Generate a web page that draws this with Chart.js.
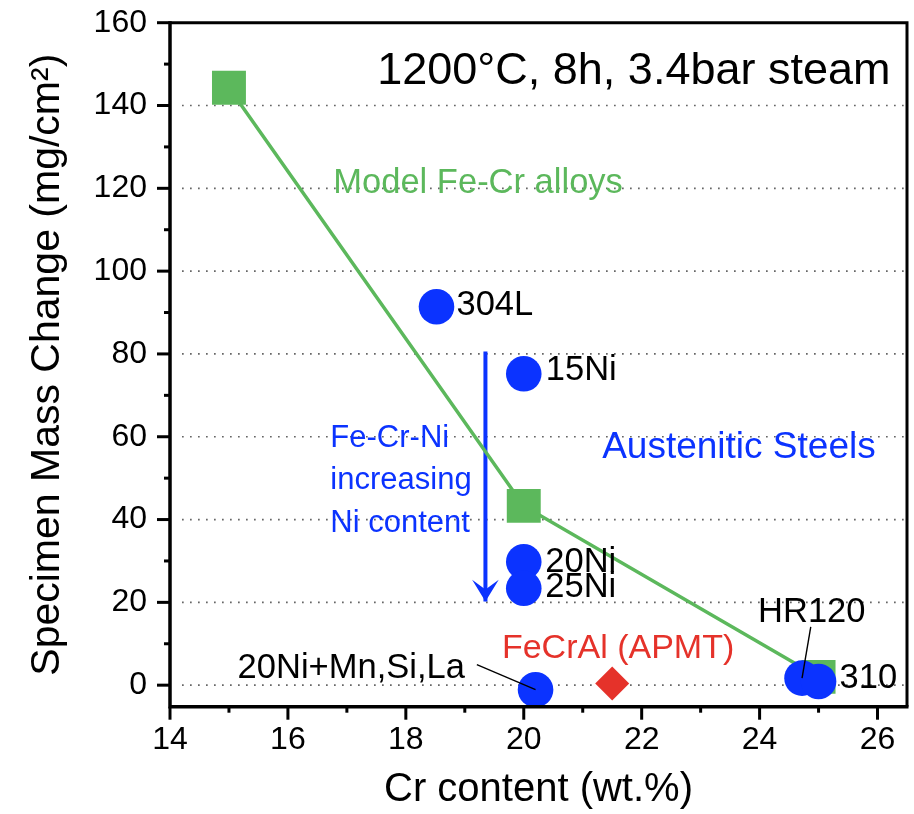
<!DOCTYPE html>
<html>
<head>
<meta charset="utf-8">
<title>Specimen mass change vs Cr content</title>
<script src="https://cdn.jsdelivr.net/npm/chart.js@4.4.1/dist/chart.umd.min.js"></script>
<style>
  html, body { margin: 0; padding: 0; background: #fff; }
  #wrap { width: 914px; height: 814px; position: relative; }
</style>
</head>
<body>
<div id="wrap"><canvas id="massChart"></canvas></div>
<script>
// ===== DATA =====
const modelCr   = [15, 20, 25];
const modelMass = [144.3, 43.3, 2.0];

const steelNames = ['304L', '15Ni', '20Ni', '25Ni', '20Ni+Mn,Si,La', 'HR120', '310'];
const steelCr    = [18.52, 20, 20, 20, 20.2, 24.72, 25.0];
const steelMass  = [91.4, 75.2, 29.8, 23.4, -1.1, 1.7, 0.9];

const fecralCr   = [21.5];
const fecralMass = [0.4];

// Ni trend arrow: start -> tip
const arrowCr   = [19.35, 19.35];
const arrowMass = [80.6, 20.2];

const xTicks      = [14, 16, 18, 20, 22, 24, 26];
const xMinorTicks = [15, 17, 19, 21, 23, 25];
const yTicks      = [0, 20, 40, 60, 80, 100, 120, 140, 160];
const yMinorTicks = [10, 30, 50, 70, 90, 110, 130, 150];

// ===== STYLE =====
const FONT  = '"Liberation Sans", Arial, Helvetica, sans-serif';
const BLUE  = '#0b33ff';
const GREEN = '#5cb85c';
const RED   = '#e5322a';

// label offsets (px) from each steel point: dx, dy (baseline), align
const steelLabelPos = [
  [20, 8.3, 'left'], [22, 6, 'left'], [21.5, 10, 'left'], [21.5, 8.4, 'left'],
  [-70.7, -11.7, 'right'], [-44, -56.6, 'left'], [21, 6.6, 'left']
];
// leader lines (start offset from point centre, px)
const leaders = { 4: [-58.7, -25], 5: [8.7, -51.3] };

// free text, anchored in data units
const notes = [
  { text: '1200°C, 8h, 3.4bar steam', x: 26.22, y: 145.3, size: 45, color: '#000', align: 'right' },
  { text: 'Model Fe-Cr alloys',       x: 16.77, y: 118.9, size: 34.5, color: GREEN, align: 'left' },
  { text: 'Austenitic Steels',        x: 21.33, y: 54.8,  size: 37, color: BLUE, align: 'left' },
  { text: 'Fe-Cr-Ni',                 x: 16.72, y: 57.6,  size: 31, color: BLUE, align: 'left' },
  { text: 'increasing',               x: 16.72, y: 47.3,  size: 31, color: BLUE, align: 'left' },
  { text: 'Ni content',               x: 16.72, y: 37.1,  size: 31, color: BLUE, align: 'left' },
  { text: 'FeCrAl (APMT)',            x: 19.63, y: 6.5,   size: 34, color: RED, align: 'left' }
];

const pts = (xs, ys) => xs.map((x, i) => ({ x, y: ys[i] }));

// ===== GRID / FRAME / LABELS =====
const decor = {
  id: 'decor',
  beforeDatasetsDraw(chart) {
    const { ctx, chartArea: a, scales: { y } } = chart;
    ctx.save();
    ctx.strokeStyle = '#666';
    ctx.lineWidth = 1.7;
    ctx.setLineDash([1.7, 6.3]);
    yTicks.forEach(v => {
      if (v >= y.max) return;
      const py = y.getPixelForValue(v);
      ctx.beginPath(); ctx.moveTo(a.left + 12, py); ctx.lineTo(a.right, py); ctx.stroke();
    });
    ctx.restore();
  },
  afterDatasetsDraw(chart) {
    const { ctx, chartArea: a, scales: { x, y } } = chart;
    ctx.save();

    // arrow head
    const am = chart.getDatasetMeta(3).data;
    const tip = am[am.length - 1];
    ctx.fillStyle = BLUE;
    ctx.beginPath();
    ctx.moveTo(tip.x, tip.y);
    ctx.lineTo(tip.x - 13.3, tip.y - 21.7);
    ctx.lineTo(tip.x, tip.y - 12);
    ctx.lineTo(tip.x + 13.3, tip.y - 21.7);
    ctx.closePath();
    ctx.fill();

    // leader lines
    const sm = chart.getDatasetMeta(0).data;
    ctx.strokeStyle = '#000';
    ctx.lineWidth = 1.4;
    Object.keys(leaders).forEach(k => {
      const p = sm[k], [dx, dy] = leaders[k];
      ctx.beginPath(); ctx.moveTo(p.x + dx, p.y + dy); ctx.lineTo(p.x, p.y); ctx.stroke();
    });

    // point labels
    ctx.fillStyle = '#000';
    ctx.font = `34.5px ${FONT}`;
    ctx.textBaseline = 'alphabetic';
    steelNames.forEach((name, i) => {
      const p = sm[i], [dx, dy, al] = steelLabelPos[i];
      ctx.textAlign = al;
      ctx.fillText(name, p.x + dx, p.y + dy);
    });

    // notes
    notes.forEach(n => {
      ctx.font = `${n.size}px ${FONT}`;
      ctx.fillStyle = n.color;
      ctx.textAlign = n.align;
      ctx.fillText(n.text, x.getPixelForValue(n.x), y.getPixelForValue(n.y));
    });

    // frame
    ctx.strokeStyle = '#000';
    ctx.lineWidth = 3;
    ctx.beginPath();
    ctx.moveTo(a.left, a.top); ctx.lineTo(a.right, a.top); ctx.lineTo(a.right, a.bottom);
    ctx.stroke();
    ctx.lineWidth = 3.5;
    ctx.beginPath();
    ctx.moveTo(a.left, a.top - 1.5); ctx.lineTo(a.left, a.bottom); ctx.lineTo(a.right + 1.5, a.bottom);
    ctx.stroke();

    // tick marks
    ctx.lineWidth = 3;
    const tickY = (vals, len) => vals.forEach(v => {
      const py = y.getPixelForValue(v);
      ctx.beginPath(); ctx.moveTo(a.left, py); ctx.lineTo(a.left - len, py); ctx.stroke();
    });
    const tickX = (vals, len) => vals.forEach(v => {
      const pxv = x.getPixelForValue(v);
      ctx.beginPath(); ctx.moveTo(pxv, a.bottom); ctx.lineTo(pxv, a.bottom + len); ctx.stroke();
    });
    tickY(yTicks, 13); tickY(yMinorTicks, 6);
    tickX(xTicks, 13); tickX(xMinorTicks, 6);

    ctx.restore();
  }
};

// ===== CHART =====
new Chart(document.getElementById('massChart'), {
  type: 'scatter',
  data: {
    datasets: [
      {
        label: 'Austenitic Steels',
        data: pts(steelCr, steelMass),
        pointStyle: 'circle',
        pointRadius: 17.8,
        pointBorderWidth: 0,
        backgroundColor: BLUE,
        borderColor: BLUE,
        order: 1
      },
      {
        label: 'Model Fe-Cr alloys',
        data: pts(modelCr, modelMass),
        showLine: true,
        borderColor: GREEN,
        borderWidth: 3.5,
        pointStyle: 'rect',
        pointRadius: 24,
        pointBorderWidth: 0,
        backgroundColor: GREEN,
        order: 3
      },
      {
        label: 'FeCrAl (APMT)',
        data: pts(fecralCr, fecralMass),
        pointStyle: 'rectRot',
        pointRadius: 17,
        pointBorderWidth: 0,
        backgroundColor: RED,
        borderColor: RED,
        order: 2
      },
      {
        label: 'Ni trend',
        data: pts(arrowCr, arrowMass),
        showLine: true,
        borderColor: BLUE,
        borderWidth: 4,
        pointRadius: 0,
        order: 4
      }
    ]
  },
  options: {
    responsive: true,
    maintainAspectRatio: false,
    animation: false,
    events: [],
    layout: { autoPadding: false, padding: { left: 0, right: 7, top: 22.7, bottom: 0 } },
    plugins: { legend: { display: false }, tooltip: { enabled: false } },
    scales: {
      x: {
        type: 'linear',
        min: 14, max: 26.5,
        afterBuildTicks: s => { s.ticks = xTicks.map(v => ({ value: v })); },
        afterFit: s => { s.height = 107.3; s.paddingLeft = 0; s.paddingRight = 0; },
        grid: { display: false, drawTicks: false },
        border: { display: false },
        ticks: { color: '#000', padding: 14, font: { family: FONT, size: 32 } },
        title: {
          display: true,
          text: 'Cr content (wt.%)',
          color: '#000',
          padding: { top: 0, bottom: 0 },
          font: { family: FONT, size: 40 }
        }
      },
      y: {
        type: 'linear',
        min: -5.2, max: 160,
        afterBuildTicks: s => { s.ticks = yTicks.map(v => ({ value: v })); },
        afterFit: s => { s.width = 170; s.paddingTop = 0; s.paddingBottom = 0; },
        grid: { display: false, drawTicks: false },
        border: { display: false },
        ticks: { color: '#000', padding: 23, font: { family: FONT, size: 32 } },
        title: {
          display: true,
          text: 'Specimen Mass Change (mg/cm²)',
          color: '#000',
          padding: { top: 22.7, bottom: 0 },
          font: { family: FONT, size: 41 }
        }
      }
    }
  },
  plugins: [decor]
});
</script>
</body>
</html>
